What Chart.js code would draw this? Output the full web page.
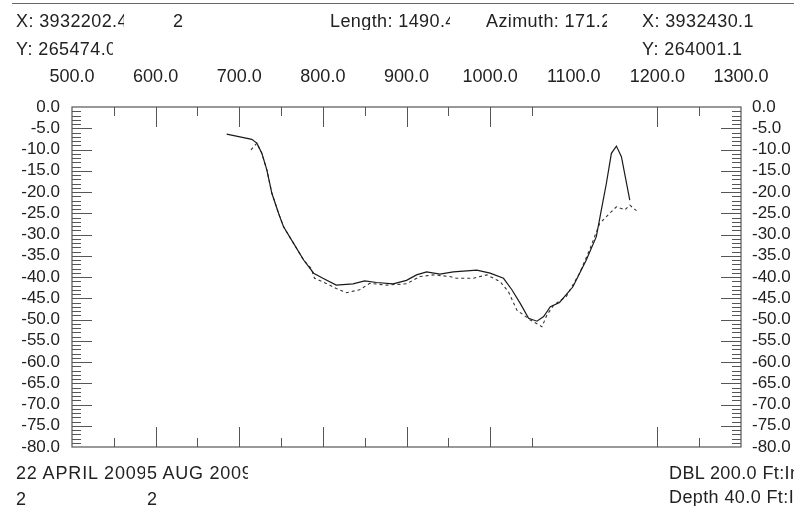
<!DOCTYPE html>
<html>
<head>
<meta charset="utf-8">
<script src="https://cdn.jsdelivr.net/npm/chart.js@4/dist/chart.umd.min.js"></script>
<style>
  html, body { margin: 0; padding: 0; background: #fff; overflow: hidden; }
  #wrap { position: relative; width: 794px; height: 516px; overflow: hidden; }
  canvas { position: absolute; left: 0; top: 0; }
  .t { position: absolute; font-family: "Liberation Sans", Arial, sans-serif; font-size: 18px; line-height: 18px;
       color: #222; white-space: nowrap; overflow: hidden; letter-spacing: 0.4px; }
  .w { letter-spacing: 0.85px; }
  #topline { position: absolute; left: 12px; top: 3px; width: 782px; height: 0; border-top: 1.5px solid #666; }
</style>
</head>
<body>
<div id="wrap">
  <canvas id="c" width="794" height="516"></canvas>
  <div id="topline"></div>
  <div class="t" style="left:16px;top:12px;width:108px;">X: 3932202.4</div>
  <div class="t" style="left:173px;top:12px;">2</div>
  <div class="t" style="left:330px;top:12px;width:120px;">Length: 1490.4</div>
  <div class="t" style="left:486px;top:12px;width:121px;">Azimuth: 171.2</div>
  <div class="t" style="left:642px;top:12px;">X: 3932430.1</div>
  <div class="t" style="left:16px;top:40px;width:97px;">Y: 265474.0</div>
  <div class="t" style="left:642px;top:40px;">Y: 264001.1</div>
  <div class="t w" style="left:16px;top:464px;width:129px;">22 APRIL 2009</div>
  <div class="t" style="left:147px;top:464px;width:101px;letter-spacing:0.75px;">5 AUG 2009</div>
  <div class="t" style="left:16px;top:490px;">2</div>
  <div class="t" style="left:147px;top:490px;">2</div>
  <div class="t" style="left:669px;top:464px;width:125px;">DBL 200.0 Ft:In</div>
  <div class="t" style="left:669px;top:488px;width:125px;">Depth 40.0 Ft:In</div>
</div>
<script>
// ---- data ----
const solidX = [685, 715, 721, 727, 733, 739, 747, 753, 765, 777, 789, 800, 816, 836, 850, 864, 884, 900, 912, 924, 940, 956, 984, 1000, 1016, 1026, 1036, 1046, 1056, 1064, 1072, 1083, 1099, 1115, 1127, 1133, 1139, 1145, 1151, 1157, 1167];
const solidY = [-6.4, -7.6, -8.5, -10.9, -14.8, -20.3, -25.0, -28.2, -32.1, -36.0, -39.1, -40.3, -41.9, -41.6, -40.9, -41.3, -41.6, -40.8, -39.5, -38.8, -39.3, -38.8, -38.4, -39.1, -40.3, -43.0, -46.2, -49.7, -50.4, -49.3, -47.0, -46.0, -42.3, -36.0, -30.5, -24.2, -18.0, -10.9, -9.2, -11.7, -21.9];

const dashX = [714, 721, 727, 733, 739, 747, 753, 765, 777, 786, 790, 804, 816, 828, 844, 856, 876, 900, 916, 932, 952, 960, 980, 996, 1012, 1022, 1032, 1048, 1062, 1068, 1076, 1091, 1107, 1119, 1131, 1143, 1151, 1161, 1167, 1175];
const dashY = [-10.1, -8.5, -10.9, -14.8, -20.3, -25.0, -28.2, -32.1, -36.0, -38.0, -40.3, -41.5, -42.7, -43.7, -43.0, -41.5, -41.9, -41.6, -39.9, -39.5, -39.9, -40.3, -40.3, -39.5, -41.1, -43.5, -47.8, -50.1, -51.7, -48.9, -46.6, -44.6, -39.1, -33.6, -27.4, -25.0, -23.5, -24.2, -23.1, -24.4];

// axis ticks
const xMajorTicks = [600, 700, 800, 900, 1000, 1200];
const xMinorTicks = [550, 650, 750, 850, 950, 1050, 1250];
const xRange = [500, 1300];
const yRange = [-80, 0];

const toPts = (xs, ys) => xs.map((v, i) => ({ x: v, y: ys[i] }));
const FONT = { family: '"Liberation Sans", Arial, sans-serif', size: 17 };

const tickPlugin = {
  id: 'innerTicks',
  afterDraw(chart) {
    const { ctx, chartArea: a, scales: { x, y } } = chart;
    ctx.save();
    ctx.strokeStyle = '#555';
    ctx.lineWidth = 1.2;
    ctx.strokeRect(a.left, a.top, a.right - a.left, a.bottom - a.top);
    ctx.lineWidth = 1;
    ctx.beginPath();
    const xt = (v, len) => {
      const p = Math.round(x.getPixelForValue(v)) + 0.5;
      ctx.moveTo(p, a.top); ctx.lineTo(p, a.top + len);
      ctx.moveTo(p, a.bottom); ctx.lineTo(p, a.bottom - len);
    };
    xMajorTicks.forEach(v => xt(v, 20));
    xMinorTicks.forEach(v => xt(v, 9));
    for (let v = yRange[0] + 1; v < yRange[1]; v++) {
      const p = Math.round(y.getPixelForValue(v)) + 0.5;
      const len = (v % 5 === 0) ? 20 : 9;
      ctx.moveTo(a.left, p); ctx.lineTo(a.left + len, p);
      ctx.moveTo(a.right, p); ctx.lineTo(a.right - len, p);
    }
    ctx.stroke();
    ctx.restore();
  }
};

new Chart(document.getElementById('c'), {
  type: 'scatter',
  data: {
    datasets: [
      { label: '22 APRIL 2009', data: toPts(solidX, solidY), showLine: true, pointRadius: 0,
        borderColor: '#1a1a1a', borderWidth: 1.2, tension: 0 },
      { label: '5 AUG 2009', data: toPts(dashX, dashY), showLine: true, pointRadius: 0,
        borderColor: '#333', borderWidth: 1.1, borderDash: [3, 3], tension: 0 }
    ]
  },
  options: {
    responsive: false,
    animation: false,
    devicePixelRatio: 1,
    layout: { padding: { top: 57, bottom: 69, left: 0, right: 0 } },
    plugins: { legend: { display: false }, tooltip: { enabled: false } },
    scales: {
      x: {
        type: 'linear', position: 'top', min: xRange[0], max: xRange[1],
        afterFit: s => { s.height = 50; },
        ticks: { stepSize: 100, autoSkip: false, maxRotation: 0, padding: 19, color: '#222', font: { ...FONT, size: 18 },
                 callback: v => Number(v).toFixed(1) },
        grid: { display: false, drawTicks: false },
        border: { display: false }
      },
      y: {
        type: 'linear', position: 'left', min: yRange[0], max: yRange[1],
        afterFit: s => { s.width = 72; },
        ticks: { stepSize: 5, autoSkip: false, padding: 12, color: '#222', font: FONT,
                 callback: v => Number(v).toFixed(1) },
        grid: { display: false, drawTicks: false },
        border: { display: false }
      },
      y2: {
        type: 'linear', position: 'right', min: yRange[0], max: yRange[1],
        afterFit: s => { s.width = 53; },
        ticks: { stepSize: 5, autoSkip: false, padding: 11, color: '#222', font: FONT,
                 callback: v => Number(v).toFixed(1) },
        grid: { display: false, drawTicks: false },
        border: { display: false }
      }
    }
  },
  plugins: [tickPlugin]
});
</script>
</body>
</html>
